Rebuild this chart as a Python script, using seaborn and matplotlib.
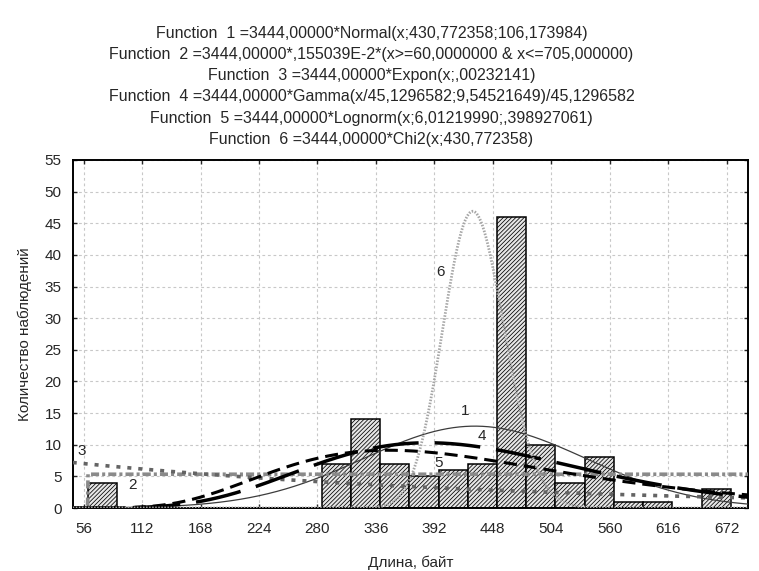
import math
import numpy as np
import pandas as pd
import matplotlib
matplotlib.use("Agg")
import matplotlib.pyplot as plt
import seaborn as sns

# Histogram: bin edges start at 60 with width 28
bin_start = 60
bin_width = 28
counts = [4, 0, 0, 0, 0, 0, 0, 0, 7, 14, 7, 5, 6, 7, 46, 10, 4, 8, 1, 1, 0, 3, 0]

# Fitted curves (scale factor = N * bin width)
scale = 3444.0
norm_mu, norm_sd = 430.772358, 106.173984
unif_lo, unif_hi, unif_dens = 60.0, 705.0, 0.155039e-2
expon_lambda = 0.00232141
gamma_theta, gamma_k = 45.1296582, 9.54521649
logn_mu, logn_sigma = 6.01219990, 0.398927061
chi2_df = 430.772358

title_lines = [
    "Function  1 =3444,00000*Normal(x;430,772358;106,173984)",
    "Function  2 =3444,00000*,155039E-2*(x>=60,0000000 & x<=705,000000)",
    "Function  3 =3444,00000*Expon(x;,00232141)",
    "Function  4 =3444,00000*Gamma(x/45,1296582;9,54521649)/45,1296582",
    "Function  5 =3444,00000*Lognorm(x;6,01219990;,398927061)",
    "Function  6 =3444,00000*Chi2(x;430,772358)",
]
x_ticks = [56, 112, 168, 224, 280, 336, 392, 448, 504, 560, 616, 672]
y_ticks = list(range(0, 56, 5))
x_label = "Длина, байт"
y_label = "Количество наблюдений"

sns.set_style("ticks")
plt.rcParams["font.family"] = ["Liberation Sans", "DejaVu Sans"]
plt.rcParams["lines.scale_dashes"] = False
plt.rcParams["hatch.linewidth"] = 0.55
plt.rcParams["hatch.color"] = "#3a3a3a"

fig = plt.figure(figsize=(7.59, 5.71), dpi=100)
ax = fig.add_axes([0.0958, 0.1103, 0.8897, 0.6095])

xmin, xmax = 45.6, 692.4

n_bins = len(counts)
centers = bin_start + bin_width * (np.arange(n_bins) + 0.5)
hist_df = pd.DataFrame({"x": centers, "n": counts})
sns.histplot(data=hist_df, x="x", weights="n", binwidth=bin_width,
             binrange=(bin_start, bin_start + bin_width * n_bins), ax=ax,
             color="#e6e6e6", edgecolor="black", linewidth=1.1,
             hatch="////////", alpha=1, zorder=2)

xs = np.linspace(xmin, xmax, 1500)


def normal_pdf(x):
    return np.exp(-0.5 * ((x - norm_mu) / norm_sd) ** 2) / (norm_sd * math.sqrt(2 * math.pi))


def uniform_pdf(x):
    return np.where((x >= unif_lo) & (x <= unif_hi), unif_dens, 0.0)


def expon_pdf(x):
    return expon_lambda * np.exp(-expon_lambda * x)


def gamma_pdf(x):
    u = x / gamma_theta
    return np.exp((gamma_k - 1) * np.log(u) - u - math.lgamma(gamma_k)) / gamma_theta


def lognorm_pdf(x):
    z = (np.log(x) - logn_mu) / logn_sigma
    return np.exp(-0.5 * z ** 2) / (x * logn_sigma * math.sqrt(2 * math.pi))


def chi2_pdf(x):
    h = chi2_df / 2
    return np.exp((h - 1) * np.log(x) - x / 2 - h * math.log(2) - math.lgamma(h))


curves = [
    (normal_pdf, "#3c3c3c", 0.9, "-"),
    (uniform_pdf, "#8a8a8a", 2.6, (0, (5.8, 2.2, 2.2, 2.2))),
    (expon_pdf, "#646464", 2.6, (0, (2.9, 5.0))),
    (gamma_pdf, "black", 2.5, (0, (33, 11.5))),
    (lognorm_pdf, "black", 2.2, (0, (9.4, 5.0))),
    (chi2_pdf, "#a6a6a6", 2.0, (0, (1.1, 1.1))),
]
for fn, col, lw, ls in curves:
    sns.lineplot(x=xs, y=scale * fn(xs), ax=ax, color=col, linewidth=lw,
                 linestyle=ls, estimator=None, sort=False, zorder=3)

# Curve numbers
num_labels = [("1", 421, 15.3), ("2", 103, 3.6), ("3", 54, 9.0),
              ("4", 437.5, 11.4), ("5", 396, 7.1), ("6", 398, 37.3)]
for t, lx, ly in num_labels:
    ax.text(lx, ly, t, fontsize=11, ha="center", va="center", zorder=4)

ax.set_xlim(xmin, xmax)
ax.set_ylim(0, 55)
ax.set_xticks(x_ticks)
ax.set_yticks(y_ticks)
ax.tick_params(axis="both", direction="in", length=3, width=1, labelsize=11,
               top=True, right=True)
ax.tick_params(axis="x", pad=10)
ax.tick_params(axis="y", pad=8)
ax.grid(True, color="#c8c8c8", linestyle=(0, (2, 2)), linewidth=0.8, zorder=0)
ax.set_axisbelow(True)
for s in ax.spines.values():
    s.set_linewidth(1.4)
    s.set_color("black")

ax.set_xlabel(x_label, fontsize=11, labelpad=14)
ax.set_ylabel(y_label, fontsize=11, labelpad=9)

for i, line in enumerate(title_lines):
    fig.text(371.5 / 759, 1 - (33.3 + 21.2 * i) / 571, line, fontsize=11.5,
             ha="center", va="center")

fig.savefig("out.png", dpi=100, facecolor="white")
